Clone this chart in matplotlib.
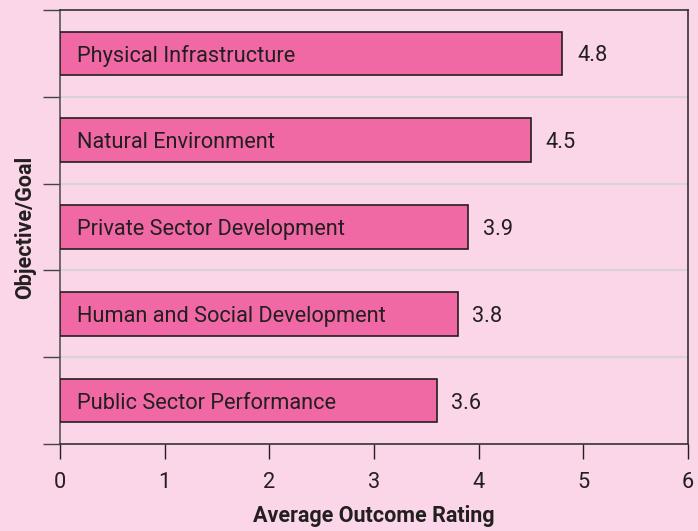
import matplotlib.pyplot as plt
import numpy as np

# Chart data
goals = ['Physical Infrastructure', 'Natural Environment', 'Private Sector Development',
         'Human and Social Development', 'Public Sector Performance']
ratings = [4.8, 4.5, 3.9, 3.8, 3.6]
x_ticks = [0, 1, 2, 3, 4, 5, 6]

bg = '#fad6e8'
bar_color = '#f068a4'
ink = '#231f20'

plt.rcParams['font.family'] = ['Roboto', 'DejaVu Sans']

fig = plt.figure(figsize=(6.98, 5.31), dpi=100, facecolor=bg)
ax = fig.add_axes([60/698, 87/531, 628/698, 434/531])
ax.set_facecolor(bg)

# top goal drawn at the top
ypos = np.arange(len(goals))[::-1]
ax.barh(ypos, ratings, height=0.5, color=bar_color, edgecolor=ink, linewidth=1.2, zorder=3)

for y, name, val in zip(ypos, goals, ratings):
    ax.text(0.16, y, name, va='center_baseline', ha='left', fontsize=15.7, color=ink, zorder=4)
    ax.text(val + 0.14, y, f'{val:.1f}', va='center_baseline', ha='left', fontsize=15.7, color=ink)

ax.set_xlim(0, 6)
ax.set_ylim(-0.5, len(goals) - 0.5)
ax.set_xticks(x_ticks)
ax.set_xticklabels([str(t) for t in x_ticks], fontsize=15.7, color=ink)
ax.set_yticks(np.arange(-0.5, len(goals), 1.0))
ax.set_yticklabels([])
ax.tick_params(axis='y', length=12, width=1, color='#444444', direction='out')
ax.tick_params(axis='x', length=11, width=1, color=ink, direction='out', pad=9)

# light separators between categories
for b in np.arange(0.5, len(goals) - 1, 1.0):
    ax.axhline(b, color='#d9d2d6', linewidth=1.5, zorder=1)

for side in ['top', 'right', 'bottom']:
    ax.spines[side].set_color('#333333')
    ax.spines[side].set_linewidth(1.2)
ax.spines['left'].set_color('#555555')
ax.spines['left'].set_linewidth(1.2)

ax.set_xlabel('Average Outcome Rating', fontsize=15.5, fontweight='bold', color=ink, labelpad=9)
ax.set_ylabel('Objective/Goal', fontsize=15.5, fontweight='bold', color=ink, labelpad=2)

plt.savefig('out.png', dpi=100, facecolor=bg)
